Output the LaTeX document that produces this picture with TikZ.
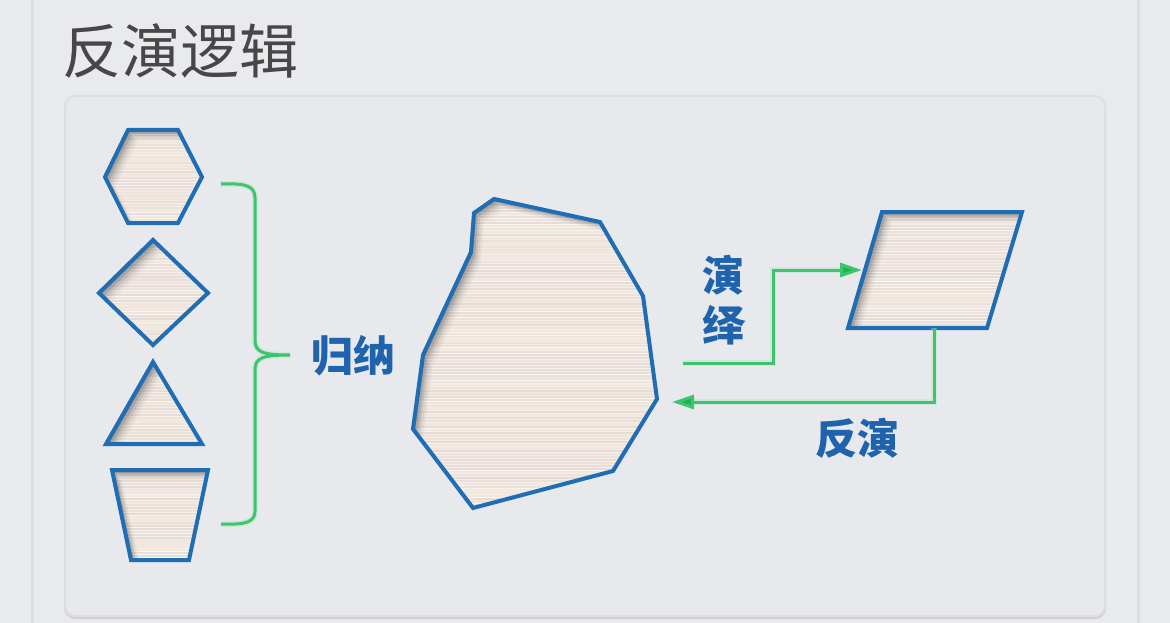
\documentclass[tikz,border=0pt]{standalone}
\usepackage{fontspec}
\usepackage{tikz}
\usetikzlibrary{arrows.meta,positioning,calc}

\newfontfamily\cjk{Noto Sans CJK SC}

\definecolor{pagebg}{HTML}{E9EAEE}
\definecolor{sidegray}{HTML}{DCDDE1}
\definecolor{panelbg}{HTML}{E8E9ED}
\definecolor{panelrim}{HTML}{DDDEE2}
\definecolor{titlegray}{HTML}{474747}
\definecolor{edgeblue}{HTML}{1F6DB5}
\definecolor{woodbase}{HTML}{F3E9DF}
\definecolor{woodgrain}{HTML}{D6CED2}
\definecolor{flowgreen}{HTML}{3DC46C}
\definecolor{tipgreen}{HTML}{1DB254}
\definecolor{labelblue}{HTML}{1E63AC}

\tikzset{
  edge/.style={draw=edgeblue, line width=4pt, line join=miter},
  flow/.style={draw=flowgreen, line width=3pt, -{Triangle[length=22pt,width=14pt,fill=tipgreen]}},
  glow/.style={draw=flowgreen!45, line width=6pt, opacity=0.35},
  tag/.style={font=\cjk\bfseries\fontsize{42}{42}\selectfont, text=labelblue, inner sep=0pt},
}

% wooden piece with a sunk edge
\newcommand{\woodpoly}[1]{%
  \begin{scope}
    \clip #1 -- cycle;
    \fill[woodbase] #1 -- cycle;
    \foreach \yy in {100,103,...,570}{
      \pgfmathsetmacro\gop{0.5*rnd}
      \draw[woodgrain, opacity=\gop, line width=1.4pt] (90,\yy) -- (1040,\yy);
      \pgfmathsetmacro\lop{0.6*rnd}
      \draw[white, opacity=\lop, line width=1pt] (90,\yy+1.5) -- (1040,\yy+1.5);
    }
    \foreach \d/\o in {2/0.22,4/0.18,6/0.13,8/0.08,10/0.05}{
      \begin{scope}[shift={(\d,\d)}]
        \fill[black!75, opacity=\o, even odd rule] (-200,-200) rectangle (1400,900) #1 -- cycle;
      \end{scope}
    }
  \end{scope}
  \draw[edge] #1 -- cycle;
}

\begin{document}
\begin{tikzpicture}[x=1pt, y=-1pt]
  \pgfmathsetseed{11}
  \useasboundingbox (0,0) rectangle (1170,623);
  \fill[pagebg] (0,0) rectangle (1170,623);

  % page rails
  \draw[sidegray, line width=3pt] (32,0) -- (32,623);
  \draw[sidegray, line width=3pt] (1138,0) -- (1138,623);

  % title
  \node[anchor=west, inner sep=0pt, text=titlegray, font=\cjk\fontsize{59}{59}\selectfont] (title) at (62,51) {反演逻辑};

  % panel
  \draw[line width=2pt, draw=black!18, rounded corners=10pt] (65,98) rectangle (1105,618);
  \draw[line width=2pt, draw=panelrim, fill=panelbg, rounded corners=10pt] (65,96) rectangle (1105,616);

  % small pieces
  \woodpoly{(128,130) -- (178,130) -- (202,177) -- (178,223) -- (128,223) -- (105,177)}
  \woodpoly{(153,240) -- (208,293) -- (153,345) -- (99,293)}
  \woodpoly{(153,362) -- (202,444) -- (106,444)}
  \woodpoly{(112,470) -- (208,470) -- (189,560) -- (131,560)}

  % big piece
  \woodpoly{(494,199) -- (600,222) -- (643,296) -- (657,399) -- (613,471) -- (473,508) -- (413,429) -- (423,355) -- (471,252) -- (474,213)}

  % parallelogram piece
  \woodpoly{(882,212) -- (1022,212) -- (987,328) -- (848,328)}

  % brace
  \coordinate (bracetop) at (221,184);
  \coordinate (bracetip) at (290,355);
  \coordinate (bracebot) at (221,524);
  \draw[glow] (bracetop) .. controls (246,183) and (255,186) .. (255,198) -- (255,340)
    .. controls (255,352) and (262,355) .. (bracetip)
    .. controls (262,355) and (255,358) .. (255,370) -- (255,511)
    .. controls (255,522) and (246,525) .. (bracebot);
  \draw[flowgreen, line width=3pt] (bracetop) .. controls (246,183) and (255,186) .. (255,198) -- (255,340)
    .. controls (255,352) and (262,355) .. (bracetip)
    .. controls (262,355) and (255,358) .. (255,370) -- (255,511)
    .. controls (255,522) and (246,525) .. (bracebot);
  \node[tag, anchor=west] (induct) at (311,356) {归纳};

  % connectors
  \coordinate (dedstart) at (683,363);
  \coordinate (paraW) at (862,270);
  \coordinate (paraS) at (934,328);
  \coordinate (rockE) at (672,402);
  \draw[glow] (dedstart) -- ++(90,0) |- ($(paraW)+(-20,0)$);
  \draw[flow] (dedstart) -- ++(90,0) |- (paraW);
  \draw[glow] (paraS) |- ($(rockE)+(20,0)$);
  \draw[flow] (paraS) |- (rockE);

  \node[tag] (deduce1) at (723,275) {演};
  \node[tag, below=10pt of deduce1] (deduce2) {绎};
  \node[tag] (invert) at (857,438) {反演};
\end{tikzpicture}
\end{document}
